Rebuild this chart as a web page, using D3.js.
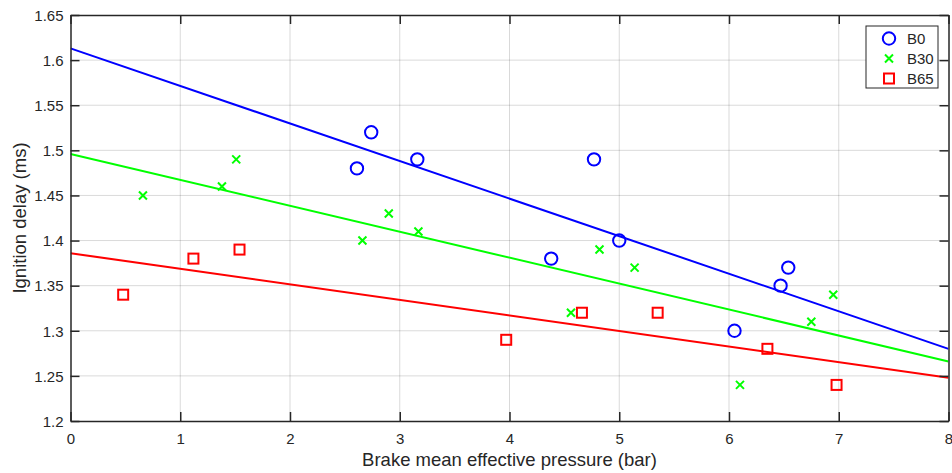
<!DOCTYPE html>
<html>
<head>
<meta charset="utf-8">
<script src="https://cdn.jsdelivr.net/npm/d3@7"></script>
<style>
  html, body { margin: 0; padding: 0; background: #fff; }
  svg { display: block; font-family: "Liberation Sans", Arial, Helvetica, sans-serif; }
  .grid line { stroke: #000; stroke-opacity: 0.15; stroke-width: 1; }
  .axis text { fill: #262626; font-size: 15px; }
</style>
</head>
<body>
<svg id="chart" width="952" height="473"></svg>
<script>
// Data
const seriesNames = ["B0", "B30", "B65"];
const b0X  = [2.61, 2.74, 3.16, 4.38, 4.77, 5.00, 6.05, 6.47, 6.54];
const b0Y  = [1.48, 1.52, 1.49, 1.38, 1.49, 1.40, 1.30, 1.35, 1.37];
const b30X = [0.66, 1.38, 1.51, 2.66, 2.90, 3.17, 4.56, 4.82, 5.14, 6.10, 6.75, 6.95];
const b30Y = [1.45, 1.46, 1.49, 1.40, 1.43, 1.41, 1.32, 1.39, 1.37, 1.24, 1.31, 1.34];
const b65X = [0.48, 1.12, 1.54, 3.97, 4.66, 5.35, 6.35, 6.98];
const b65Y = [1.34, 1.38, 1.39, 1.29, 1.32, 1.32, 1.28, 1.24];
// linear fit lines: value at x = 0 and at x = 8
const fitX = [0, 8];
const b0Fit  = [1.613, 1.280];
const b30Fit = [1.496, 1.266];
const b65Fit = [1.386, 1.248];
const xTicks = [0, 1, 2, 3, 4, 5, 6, 7, 8];
const yTicks = [1.2, 1.25, 1.3, 1.35, 1.4, 1.45, 1.5, 1.55, 1.6, 1.65];

const colors = { B0: "#0000ff", B30: "#00ff00", B65: "#ff0000" };
const series = [
  { name: "B0",  xs: b0X,  ys: b0Y,  fit: b0Fit,  marker: "circle" },
  { name: "B30", xs: b30X, ys: b30Y, fit: b30Fit, marker: "cross" },
  { name: "B65", xs: b65X, ys: b65Y, fit: b65Fit, marker: "square" }
];

const margin = { top: 15, right: 3.5, bottom: 52, left: 70.5 };
const W = 952, H = 473;
const w = W - margin.left - margin.right;
const h = H - margin.top - margin.bottom;

const svg = d3.select("#chart");
const g = svg.append("g").attr("transform", `translate(${margin.left},${margin.top})`);

const x = d3.scaleLinear().domain([0, 8]).range([0, w]);
const y = d3.scaleLinear().domain([1.2, 1.65]).range([h, 0]);

// Grid
const grid = g.append("g").attr("class", "grid");
grid.selectAll(".gx").data(xTicks.slice(1, -1)).enter().append("line")
  .attr("x1", d => x(d)).attr("x2", d => x(d)).attr("y1", 0).attr("y2", h);
grid.selectAll(".gy").data(yTicks.slice(1, -1)).enter().append("line")
  .attr("y1", d => y(d)).attr("y2", d => y(d)).attr("x1", 0).attr("x2", w);

// Fit lines
g.append("clipPath").attr("id", "clip").append("rect")
  .attr("width", w).attr("height", h);
const plot = g.append("g").attr("clip-path", "url(#clip)");
const line = d3.line().x(d => x(d[0])).y(d => y(d[1]));
series.forEach(s => {
  plot.append("path")
    .datum(fitX.map((v, i) => [v, s.fit[i]]))
    .attr("d", line)
    .attr("fill", "none")
    .attr("stroke", colors[s.name])
    .attr("stroke-width", 2);
});

// Markers
function drawMarker(sel, type, color) {
  if (type === "circle") {
    sel.append("circle").attr("r", 6.2)
      .attr("fill", "none").attr("stroke", color).attr("stroke-width", 2);
  } else if (type === "cross") {
    sel.append("path").attr("d", "M-4,-4L4,4M-4,4L4,-4")
      .attr("fill", "none").attr("stroke", color).attr("stroke-width", 2);
  } else {
    sel.append("rect").attr("x", -5).attr("y", -5).attr("width", 10).attr("height", 10)
      .attr("fill", "none").attr("stroke", color).attr("stroke-width", 2);
  }
}
series.forEach(s => {
  const pts = s.xs.map((v, i) => [v, s.ys[i]]);
  plot.selectAll(null).data(pts).enter().append("g")
    .attr("transform", d => `translate(${x(d[0])},${y(d[1])})`)
    .each(function () { drawMarker(d3.select(this), s.marker, colors[s.name]); });
});

// Axes (ticks inside, box on)
const axisColor = "#262626";
const tickLen = 9;
const xAxis = g.append("g").attr("class", "axis").attr("transform", `translate(0,${h})`)
  .call(d3.axisBottom(x).tickValues(xTicks).tickFormat(d3.format("d")).tickSizeInner(-tickLen).tickSizeOuter(0).tickPadding(12));
const yAxis = g.append("g").attr("class", "axis")
  .call(d3.axisLeft(y).tickValues(yTicks).tickFormat(d => +d.toFixed(2)).tickSizeInner(-tickLen).tickSizeOuter(0).tickPadding(7));
const xTop = g.append("g").attr("class", "axis")
  .call(d3.axisTop(x).tickValues(xTicks).tickFormat("").tickSizeInner(-tickLen).tickSizeOuter(0));
const yRight = g.append("g").attr("class", "axis").attr("transform", `translate(${w},0)`)
  .call(d3.axisRight(y).tickValues(yTicks).tickFormat("").tickSizeInner(-tickLen).tickSizeOuter(0));
[xAxis, yAxis, xTop, yRight].forEach(a => {
  a.select(".domain").attr("stroke", axisColor).attr("stroke-width", 1.5);
  a.selectAll(".tick line").attr("stroke", axisColor).attr("stroke-width", 1.5);
});
yAxis.selectAll(".tick text").attr("dy", "0.35em");

// Axis labels
svg.append("text")
  .attr("x", margin.left + w / 2).attr("y", 466)
  .attr("text-anchor", "middle").attr("fill", "#262626").attr("font-size", 18.5)
  .text("Brake mean effective pressure (bar)");
svg.append("text")
  .attr("transform", `translate(25.5,${margin.top + h / 2}) rotate(-90)`)
  .attr("text-anchor", "middle").attr("fill", "#262626").attr("font-size", 18.5)
  .text("Ignition delay (ms)");

// Legend
const legend = svg.append("g").attr("transform", "translate(866,26)");
legend.append("rect").attr("width", 72).attr("height", 62)
  .attr("fill", "#fff").attr("stroke", axisColor).attr("stroke-width", 1);
series.forEach((s, i) => {
  const row = legend.append("g").attr("transform", `translate(23,${12.5 + i * 20})`);
  drawMarker(row, s.marker, colors[s.name]);
  row.append("text").attr("x", 18).attr("dy", "0.35em")
    .attr("fill", "#262626").attr("font-size", 15).text(s.name);
});
</script>
</body>
</html>
